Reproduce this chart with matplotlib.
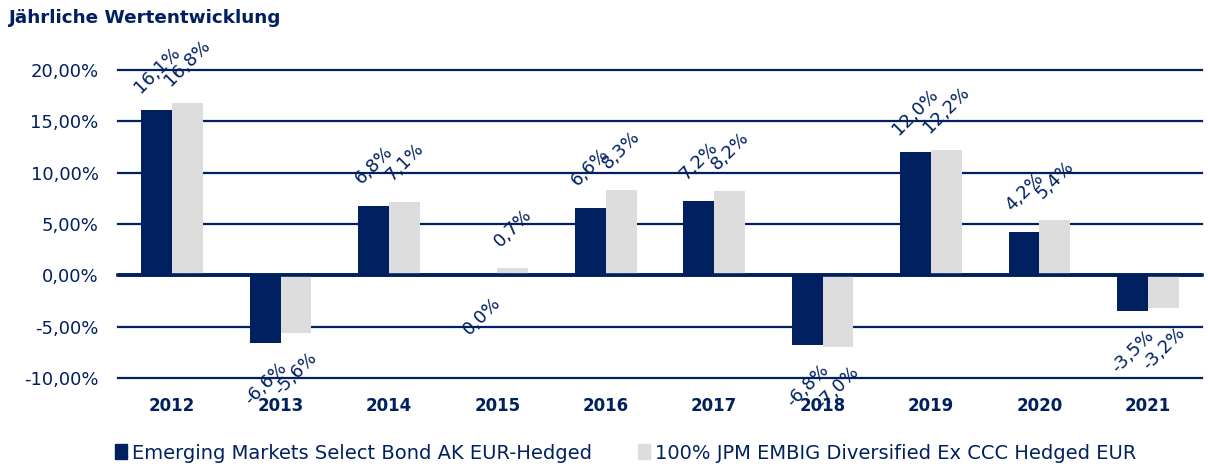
import numpy as np
import matplotlib
matplotlib.use("Agg")
from matplotlib import pyplot as plt
from matplotlib.patches import Patch

# datos
anios = ["2012", "2013", "2014", "2015", "2016", "2017", "2018", "2019", "2020", "2021"]
fondo = [16.1, -6.6, 6.8, 0.0, 6.6, 7.2, -6.8, 12.0, 4.2, -3.5]
indice = [16.8, -5.6, 7.1, 0.7, 8.3, 8.2, -7.0, 12.2, 5.4, -3.2]
nombre_fondo = "Emerging Markets Select Bond AK EUR-Hedged"
nombre_indice = "100% JPM EMBIG Diversified Ex CCC Hedged EUR"
ticks_y = [-10, -5, 0, 5, 10, 15, 20]

azul = "#002060"
gris = "#DDDDDD"

plt.rcParams["font.family"] = ["DejaVu Sans"]

fig = plt.figure(figsize=(12.08, 4.73), dpi=100)
ax = fig.add_axes([118 / 1208, 1 - 378 / 473, 1084 / 1208, 308 / 473])

x = np.arange(len(anios))
ancho = 0.285

# lineas de la grilla
for t in ticks_y:
    ax.axhline(t, color=azul, lw=2.6 if t == 0 else 1.6, zorder=1, clip_on=False)

b1 = ax.bar(x - ancho / 2, fondo, ancho, color=azul, zorder=2)
b2 = ax.bar(x + ancho / 2, indice, ancho, color=gris, zorder=2)
ax.axhline(0, color=azul, lw=2.6, zorder=3)

# etiquetas de datos rotadas
for barras, valores in ((b1, fondo), (b2, indice)):
    for rect, v in zip(barras, valores):
        cx = rect.get_x() + rect.get_width() / 2
        dy = 29 if v > 0 else -29
        ax.annotate(f"{v:.1f}%".replace(".", ","), (cx, v),
                    xytext=(0, dy), textcoords="offset points",
                    ha="center", va="center", rotation=45,
                    rotation_mode="anchor", fontsize=13, color=azul,
                    annotation_clip=False, zorder=4)

ax.set_xlim(-0.5, len(anios) - 0.5)
ax.set_ylim(-10, 20)
ax.set_yticks(ticks_y)
ax.set_yticklabels([f"{t:.2f}%".replace(".", ",") for t in ticks_y],
                   fontsize=13, color=azul)
ax.set_xticks(x)
ax.set_xticklabels(anios, fontsize=12, fontweight="bold", color=azul)
ax.tick_params(axis="y", length=0, pad=14)
ax.tick_params(axis="x", length=0, pad=14)
for s in ax.spines.values():
    s.set_visible(False)

fig.text(8 / 1208, 1 - 18 / 473, "Jährliche Wertentwicklung",
         fontsize=13.2, fontweight="bold", color=azul, va="center", ha="left")

handles = [Patch(color=azul), Patch(color=gris)]
fig.legend(handles, [nombre_fondo, nombre_indice], loc="center left",
           bbox_to_anchor=(115 / 1208, 1 - 453 / 473), ncol=2, frameon=False,
           fontsize=14, handlelength=0.6, handleheight=0.8, handletextpad=0.25,
           columnspacing=2.4, borderpad=0, borderaxespad=0, labelcolor=azul)

fig.savefig("out.png", dpi=100)
